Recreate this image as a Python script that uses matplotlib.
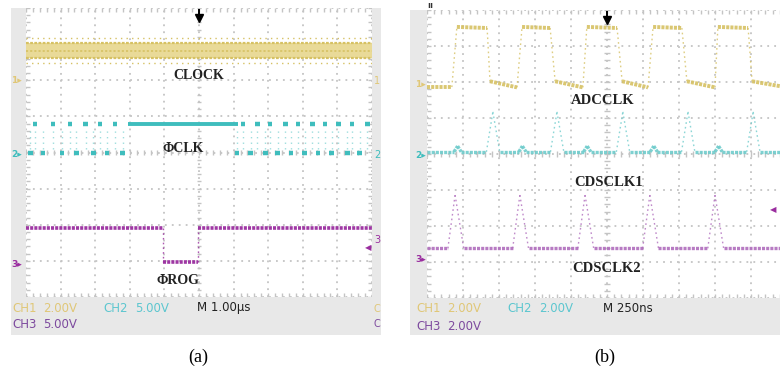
import matplotlib
matplotlib.use('Agg')
import matplotlib.pyplot as plt
import numpy as np
from matplotlib.patches import Rectangle

plt.rcParams['lines.scale_dashes'] = False

# ---------------- data (in screen divisions) ----------------
# Panel (a): 1.00 us/div
clock_outer = (2.48, 3.17)      # sparse edge of the unresolved CLOCK band
clock_core = (2.61, 3.03)       # dense core of the CLOCK band
phiclk_high, phiclk_low = 0.78, 0.0
phiclk_high_blips = [0.26, 0.78, 1.27, 1.73, 2.14, 2.57,
                     6.27, 6.68, 7.05, 7.49, 7.86, 8.27, 8.64, 9.02, 9.42, 9.86]
phiclk_low_blips = [0.12, 0.49, 1.04, 1.45, 1.94, 2.34, 2.80,
                    6.10, 6.50, 6.91, 7.28, 7.66, 8.06, 8.44, 8.84, 9.28, 9.65]
phiclk_hold = (2.95, 6.13)      # continuous high section
rog_t = [0.0, 3.97, 3.97, 4.97, 4.97, 10.0]
rog_v = [-2.09, -2.09, -3.04, -3.04, -2.09, -2.09]

# Panel (b): 250 ns/div
adc_t = [0.00, 0.69, 0.83, 1.67, 1.75, 2.50, 2.64, 3.42, 3.56, 4.33, 4.44,
         5.28, 5.42, 6.14, 6.28, 7.08, 7.22, 8.00, 8.08, 8.92, 9.03, 10.0]
adc_v = [1.86, 1.86, 3.53, 3.50, 2.02, 1.85, 3.53, 3.50, 2.02, 1.85, 3.53,
         3.50, 2.02, 1.85, 3.53, 3.50, 2.02, 1.85, 3.53, 3.50, 2.02, 1.85]
cds1_t = [0.00, 0.75, 0.85, 0.95, 1.65, 1.83, 2.02, 2.55, 2.65, 2.75, 3.43,
          3.61, 3.80, 4.35, 4.45, 4.55, 5.26, 5.44, 5.63, 6.20, 6.30, 6.40,
          7.07, 7.25, 7.44, 8.00, 8.10, 8.20, 8.88, 9.06, 9.25, 10.00]
cds1_v = [0.06, 0.06, 0.22, 0.06, 0.06, 1.17, 0.06, 0.06, 0.22, 0.06, 0.06,
          1.17, 0.06, 0.06, 0.22, 0.06, 0.06, 1.17, 0.06, 0.06, 0.22, 0.06,
          0.06, 1.17, 0.06, 0.06, 0.22, 0.06, 0.06, 1.17, 0.06, 0.06]
cds2_t = [0.0, 0.58, 0.78, 1.02, 2.38, 2.58, 2.82, 4.19, 4.39, 4.63,
          5.99, 6.19, 6.43, 7.80, 8.00, 8.24, 10.0]
cds2_v = [-2.62, -2.62, -1.14, -2.62, -2.62, -1.14, -2.62, -2.62, -1.14, -2.62,
          -2.62, -1.14, -2.62, -2.62, -1.14, -2.62, -2.62]

labels_a = ['CLOCK', '\u03a6CLK', '\u03a6ROG']
labels_b = ['ADCCLK', 'CDSCLK1', 'CDSCLK2']
info_a = [('CH1', '2.00V'), ('CH2', '5.00V'), 'M 1.00\u00b5s', ('CH3', '5.00V')]
info_b = [('CH1', '2.00V'), ('CH2', '2.00V'), 'M 250ns', ('CH3', '2.00V')]

YEL, YEL_F = '#d6c163', '#e9da98'
CYA = '#3fbdbd'
CYA_B = '#6fcccc'
PUR = '#9a2d9f'
PUR_B = '#b06dbd'
YEL_T, CYA_T, PUR_T = '#e0c777', '#5cc6cf', '#7d4a9e'
GRIDC = '#c4c4c4'
GRAY = '#e8e8e8'

W, H = 780, 372
fig = plt.figure(figsize=(7.8, 3.72), dpi=100)
bg = fig.add_axes([0, 0, 1, 1], zorder=0)
bg.set_xlim(0, W)
bg.set_ylim(H, 0)
bg.axis('off')

for (x0, y0, x1, y1) in [(11, 8, 26, 335), (372, 8, 381, 335), (11, 297, 381, 335),
                         (410, 10, 427, 335), (410, 298, 780, 335)]:
    bg.add_patch(Rectangle((x0, y0), x1 - x0, y1 - y0, color=GRAY, lw=0))

axA = fig.add_axes([26 / W, 1 - 297 / H, 346 / W, 289 / H], zorder=2)
axB = fig.add_axes([427 / W, 1 - 298 / H, 360 / W, 288 / H], zorder=2)


def draw_grid(ax):
    ax.set_xlim(0, 10)
    ax.set_ylim(-4, 4)
    ax.set_facecolor('white')
    for s in ax.spines.values():
        s.set_visible(False)
    ax.set_xticks([])
    ax.set_yticks([])
    for x in range(0, 11):
        ax.axvline(x, color=GRIDC, lw=1.3, ls=(0, (1.3, 3.7)), zorder=1)
    for y in range(-4, 5):
        ax.axhline(y, color=GRIDC, lw=1.3, ls=(0, (1.3, 3.7)), zorder=1)
    ys = np.arange(-4, 4.01, 0.2)
    xs = np.arange(0, 10.01, 0.2)
    ax.hlines(ys, 4.93, 5.07, color=GRIDC, lw=1.0, zorder=1)
    ax.vlines(xs, -0.07, 0.07, color=GRIDC, lw=1.0, zorder=1)
    ax.hlines(ys, 0, 0.12, color=GRIDC, lw=1.0, zorder=1)
    ax.hlines(ys, 9.88, 10, color=GRIDC, lw=1.0, zorder=1)
    ax.vlines(xs, 3.88, 4, color=GRIDC, lw=1.0, zorder=1)
    ax.vlines(xs, -4, -3.88, color=GRIDC, lw=1.0, zorder=1)
    # trigger position marker
    ax.vlines(5, 3.8, 3.97, color='black', lw=1.4, zorder=6)
    ax.plot([5], [3.73], marker='v', ms=6, color='black', zorder=6, clip_on=False)


def draw_wave(ax, t, v, color, lw_flat=2.6, lw_edge=1.0, alpha=0.9):
    for i in range(len(t) - 1):
        dt = t[i + 1] - t[i]
        dv = v[i + 1] - v[i]
        steep = dt == 0 or abs(dv / dt) > 2.5
        if steep:
            ax.plot(t[i:i + 2], v[i:i + 2], color=color, lw=lw_edge,
                    ls=(0, (1.2, 2.2)), alpha=0.8, zorder=4)
        else:
            ax.plot(t[i:i + 2], v[i:i + 2], color=color, lw=lw_flat,
                    ls=(0, (2.2, 0.8)), alpha=alpha, zorder=4,
                    solid_capstyle='butt')


draw_grid(axA)
draw_grid(axB)

# ---- panel (a) traces ----
axA.fill_between([0, 10], clock_core[0], clock_core[1], color=YEL_F, lw=0, zorder=3)
for yv in clock_core:
    axA.axhline(yv, color=YEL, lw=1.6, ls=(0, (2, 1)), zorder=4)
axA.axhline(np.mean(clock_core), color=YEL, lw=1.2, ls=(0, (1.5, 1.5)), zorder=4)
for yv in clock_outer:
    axA.axhline(yv, color=YEL, lw=1.0, ls=(0, (1, 3)), zorder=4)

axA.hlines([phiclk_high] * len(phiclk_high_blips),
           np.array(phiclk_high_blips) - 0.07, np.array(phiclk_high_blips) + 0.07,
           color=CYA, lw=3.2, zorder=4)
axA.hlines([phiclk_low] * len(phiclk_low_blips),
           np.array(phiclk_low_blips) - 0.07, np.array(phiclk_low_blips) + 0.07,
           color=CYA, lw=3.2, zorder=4)
axA.hlines(phiclk_high, phiclk_hold[0], phiclk_hold[1], color=CYA, lw=2.8, zorder=4)
edges = sorted(phiclk_high_blips + phiclk_low_blips)
axA.vlines(edges, phiclk_low + 0.1, phiclk_high - 0.1, color=CYA, lw=1.0,
           ls=(0, (1, 3)), alpha=0.5, zorder=3)

draw_wave(axA, rog_t, rog_v, PUR, lw_flat=2.6, alpha=0.95)

axA.text(5.0, 2.12, labels_a[0], ha='center', va='center', family='Liberation Serif',
         fontweight='bold', fontsize=10, color='#222222', zorder=7)
axA.text(4.54, 0.12, labels_a[1], ha='center', va='center', family='Liberation Serif',
         fontweight='bold', fontsize=10, color='#222222', zorder=7)
axA.text(4.39, -3.53, labels_a[2], ha='center', va='center', family='Liberation Serif',
         fontweight='bold', fontsize=10, color='#222222', zorder=7)

# ground markers
for ax, xs, items in [(axA, -0.42, [(2.0, '1', YEL_T), (-0.05, '2', CYA), (-3.1, '3', PUR)]),
                      (axB, -0.33, [(1.92, '1', YEL_T), (-0.03, '2', CYA), (-2.94, '3', PUR)])]:
    for yv, s, c in items:
        ax.text(xs, yv, s + '\u25b8', ha='left', va='center', fontsize=6.5, color=c,
                fontweight='bold', clip_on=False, zorder=7)

# trigger level markers
axA.text(9.98, -2.62, '\u25c0', ha='right', va='center', fontsize=6, color=PUR, zorder=7)
axB.text(9.7, -1.53, '\u25c0', ha='right', va='center', fontsize=6, color=PUR, zorder=7)

# ---- panel (b) traces ----
draw_wave(axB, adc_t, adc_v, YEL, lw_flat=2.8)
draw_wave(axB, cds1_t, cds1_v, CYA_B, lw_flat=2.4)
draw_wave(axB, cds2_t, cds2_v, PUR_B, lw_flat=2.4)

axB.text(4.89, 1.5, labels_b[0], ha='center', va='center', family='Liberation Serif',
         fontweight='bold', fontsize=10.5, color='#222222', zorder=7)
axB.text(5.05, -0.78, labels_b[1], ha='center', va='center', family='Liberation Serif',
         fontweight='bold', fontsize=10.5, color='#222222', zorder=7)
axB.text(5.0, -3.17, labels_b[2], ha='center', va='center', family='Liberation Serif',
         fontweight='bold', fontsize=10.5, color='#222222', zorder=7)

# ---- info bars ----
NARROW = ['Liberation Sans Narrow', 'DejaVu Sans']


def info(items, x0, xch2, xm, y1, y2):
    (c1, v1), (c2, v2), m, (c3, v3) = items
    kw = dict(va='center', ha='left', fontsize=8.5, family=NARROW)
    bg.text(x0, y1, c1, color=YEL_T, **kw)
    bg.text(x0 + 31, y1, v1, color=YEL_T, **kw)
    bg.text(xch2, y1, c2, color=CYA_T, **kw)
    bg.text(xch2 + 32, y1, v2, color=CYA_T, **kw)
    bg.text(xm, y1, m, color='#222222', **kw)
    bg.text(x0, y2, c3, color=PUR_T, **kw)
    bg.text(x0 + 31, y2, v3, color=PUR_T, **kw)


info(info_a, 12, 103, 197, 308, 324)
info(info_b, 416, 507, 603, 309, 326)

# partial glyphs of the neighbouring screen column (right of panel a)
for y, s, c in [(81, '1', YEL_T), (155, '2', CYA), (240, '3', PUR),
                (309, 'C', YEL_T), (324, 'C', PUR_T)]:
    bg.text(374, y, s, color=c, fontsize=7, va='center', ha='left')

bg.text(427, 5, '\u0131\u0131', fontsize=6, fontweight='bold', color='#333333',
        va='center', ha='left')

# captions
bg.text(198, 357, '(a)', ha='center', va='center', family='Liberation Serif',
        fontsize=13, color='black')
bg.text(605, 357, '(b)', ha='center', va='center', family='Liberation Serif',
        fontsize=13, color='black')

fig.savefig('out.png', dpi=100)
